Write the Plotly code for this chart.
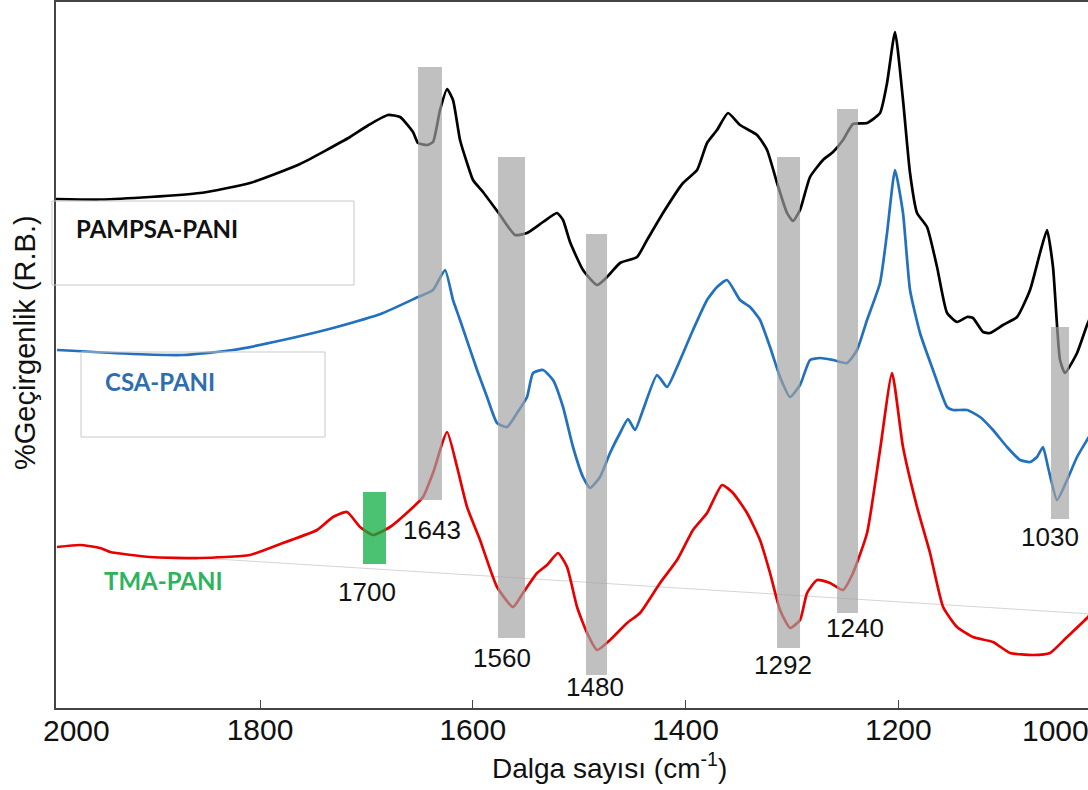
import plotly.graph_objects as go

# ---------------- data (wavenumber in cm-1, transmittance in relative units) ----------------
wn_pampsa = [1992, 1950.4, 1903.4, 1856.4, 1809.4, 1762.4, 1715.4, 1699.4, 1679.7, 1668.4, 1656.2, 1651.5,
             1643, 1637.4, 1630.8, 1624.2, 1618.6, 1612, 1605.4, 1599.8, 1590.4, 1574.4, 1560.3, 1549,
             1534, 1520.8, 1515.2, 1508.6, 1496.4, 1483.2, 1473.8, 1461.6, 1445.6, 1436.2, 1421.2, 1402.4,
             1389.2, 1379.8, 1370.4, 1360.1, 1348.8, 1332.8, 1323.4, 1314, 1304.6, 1299, 1292.4, 1283,
             1270.8, 1261.4, 1252, 1242.6, 1229.4, 1217.2, 1210.6, 1203.1, 1195.6, 1189, 1182.4, 1173,
             1163.6, 1154.2, 1144.8, 1135.4, 1129.8, 1120.4, 1113.8, 1101.6, 1088.4, 1076.2, 1066.8, 1060.2,
             1054.6, 1048, 1043.3, 1032, 1022.6, 1019.8]
t_pampsa = [509, 508.5, 511, 515, 525, 544, 571, 582, 593, 591, 576, 565,
            563, 566, 598, 619, 608, 568, 545, 528, 516, 493, 473, 475,
            486, 495, 488, 466, 438, 423, 431, 445, 451, 468, 495, 525,
            538, 565, 578, 595, 583, 573, 558, 525, 495, 487, 498, 531,
            548, 556, 568, 584, 585, 595, 625, 676, 608, 535, 495, 481,
            441, 395, 386, 391, 390, 376, 375, 383, 391, 418, 455, 478,
            441, 348, 335, 355, 383, 390]

wn_csa = [1990.8, 1919.4, 1872.4, 1825.4, 1778.4, 1731.4, 1684.4, 1651.5, 1637.4, 1626.1, 1618.6, 1612,
          1596, 1586.6, 1577.2, 1567.8, 1558.4, 1549, 1543.4, 1534, 1524.6, 1515.2, 1505.8, 1496.4,
          1489.8, 1480.4, 1471, 1461.6, 1454.1, 1447.5, 1440, 1426.8, 1417.4, 1408, 1393, 1379.8,
          1370.4, 1361, 1348.8, 1339.4, 1330, 1320.6, 1311.2, 1301.8, 1292.4, 1283, 1273.6, 1261.4,
          1248.2, 1238.8, 1229.4, 1217.2, 1210.6, 1203.1, 1195.6, 1189, 1179.6, 1167.4, 1154.2, 1148.6,
          1135.4, 1123.2, 1111, 1097.8, 1085.6, 1076.2, 1069.6, 1064, 1059.3, 1050.8, 1041.4, 1032,
          1022.6, 1018]
t_csa = [358, 354, 353, 358, 368, 380, 395, 411, 418, 438, 408, 388,
         338, 311, 285, 281, 295, 311, 335, 338, 328, 301, 261, 231,
         220, 231, 255, 275, 289, 278, 298, 333, 321, 341, 378, 408,
         421, 428, 408, 401, 388, 361, 331, 311, 323, 348, 350, 348,
         345, 358, 388, 425, 475, 538, 495, 418, 375, 338, 301, 298,
         298, 291, 278, 261, 248, 246, 251, 261, 241, 208, 228, 251,
         268, 276]

wn_tma = [1990.8, 1969.2, 1950.4, 1941, 1903.4, 1856.4, 1809.4, 1778.4, 1746.4, 1731.4, 1718.2, 1706,
          1693.8, 1677.8, 1659, 1646.8, 1637.4, 1624.2, 1614.8, 1605.4, 1593.2, 1577.2, 1562.2, 1552.8,
          1539.6, 1530.2, 1519.9, 1511.4, 1502, 1492.6, 1483.2, 1471, 1455, 1442.8, 1424, 1408,
          1393, 1379.8, 1365.7, 1355.4, 1342.2, 1330, 1320.6, 1311.2, 1301.8, 1292.4, 1285.8, 1276.4,
          1264.2, 1252, 1242.6, 1229.4, 1217.2, 1205.9, 1195.6, 1182.4, 1170.2, 1157.9, 1144.8, 1129.8,
          1111, 1095, 1073.4, 1057.4, 1041.4, 1022.6, 1018]
t_tma = [161, 163, 160, 156, 151, 150, 153, 165, 178, 191, 196, 181,
         173, 181, 198, 211, 235, 276, 241, 201, 168, 121, 101, 115,
         135, 143, 155, 141, 101, 75, 58, 68, 85, 95, 125, 148,
         178, 195, 223, 215, 195, 168, 135, 98, 80, 88, 115, 128,
         125, 118, 135, 175, 258, 335, 261, 201, 155, 101, 81, 71,
         66, 55, 53, 55, 71, 90, 96]

baseline_wn = [1856.4, 1018]
baseline_t = [150, 94]

band_labels = ["1643", "1560", "1480", "1292", "1240", "1030"]
band_lo = [1629.0, 1550.9, 1473.8, 1292.4, 1237.9, 1039.5]
band_hi = [1651.5, 1576.3, 1493.6, 1314.0, 1257.6, 1056.5]
band_bottom = [208, 70, 33, 60, 95, 189]
band_top = [641, 551, 474, 551, 599, 381]
label_wn = [1638.3, 1572.5, 1485.1, 1308.4, 1240.7, 1057.4]
label_t = [178, 50, 21, 43, 80, 171]

green_label = "1700"
green_lo, green_hi = 1681.6, 1703.2
green_bottom, green_top = 144, 216
green_label_wn, green_label_t = 1699.4, 116

series_names = ["PAMPSA-PANI", "CSA-PANI", "TMA-PANI"]
x_ticks = [1800, 1600, 1400, 1200]
edge_tick_labels = ["2000", "1000"]

# ---------------- figure ----------------
ARIAL = "Liberation Sans, Arial, sans-serif"
CAL = "Lato, Carlito, Calibri, sans-serif"
W, H, L, T, B = 1088, 790, 56, 2, 82
PW, PH = W - L, H - T - B


def px_x(px):
    return (px - L) / PW


def px_y(py):
    return (H - B - py) / PH


fig = go.Figure()
fig.add_trace(go.Scatter(x=baseline_wn, y=baseline_t, mode="lines",
                         line=dict(color="#d4d4d4", width=1), hoverinfo="skip"))
for wn, t, col, name in [(wn_pampsa, t_pampsa, "#000000", series_names[0]),
                         (wn_csa, t_csa, "#2271BE", series_names[1]),
                         (wn_tma, t_tma, "#E80000", series_names[2])]:
    fig.add_trace(go.Scatter(x=wn, y=t, mode="lines", name=name,
                             line=dict(color=col, width=2.7, shape="spline", smoothing=0.5)))

shapes = []
for lo, hi, b, tp in zip(band_lo, band_hi, band_bottom, band_top):
    shapes.append(dict(type="rect", xref="x", yref="y", x0=hi, x1=lo, y0=b, y1=tp,
                       fillcolor="rgb(162,162,162)", opacity=0.68, line=dict(width=0), layer="above"))
shapes.append(dict(type="rect", xref="x", yref="y", x0=green_hi, x1=green_lo, y0=green_bottom, y1=green_top,
                   fillcolor="rgb(13,174,67)", opacity=0.75, line=dict(width=0), layer="above"))
# legend boxes
shapes.append(dict(type="rect", xref="paper", yref="paper", x0=px_x(52), x1=px_x(354), y0=px_y(285), y1=px_y(201),
                   line=dict(color="#c8c8c8", width=1), fillcolor="rgba(0,0,0,0)", layer="above"))
shapes.append(dict(type="rect", xref="paper", yref="paper", x0=px_x(81), x1=px_x(325), y0=px_y(437), y1=px_y(352),
                   line=dict(color="#c8c8c8", width=1), fillcolor="rgba(0,0,0,0)", layer="above"))

annotations = []
for txt, x, y in zip(band_labels, label_wn, label_t):
    annotations.append(dict(x=x, y=y, xref="x", yref="y", text=txt, showarrow=False,
                            xanchor="center", yanchor="middle",
                            font=dict(family=ARIAL, size=26, color="#111111")))
annotations.append(dict(x=green_label_wn, y=green_label_t, xref="x", yref="y", text=green_label,
                        showarrow=False, xanchor="center", yanchor="middle",
                        font=dict(family=ARIAL, size=26, color="#111111")))
annotations += [
    dict(x=px_x(74), y=px_y(229), xref="paper", yref="paper", xanchor="left", yanchor="middle",
         text="<b>PAMPSA-PANI</b>", showarrow=False, font=dict(family=CAL, size=24, color="#111111")),
    dict(x=px_x(103), y=px_y(382), xref="paper", yref="paper", xanchor="left", yanchor="middle",
         text="<b>CSA-PANI</b>", showarrow=False, font=dict(family=CAL, size=24, color="#2E6DAE")),
    dict(x=px_x(102), y=px_y(580), xref="paper", yref="paper", xanchor="left", yanchor="middle",
         text="<b>TMA-PANI</b>", showarrow=False, font=dict(family=CAL, size=24, color="#2DB35E")),
    # outer tick labels of the cropped axis
    dict(x=px_x(76), y=px_y(730), xref="paper", yref="paper", text=edge_tick_labels[0], showarrow=False,
         xanchor="center", yanchor="middle", font=dict(family=ARIAL, size=30, color="#111111")),
    dict(x=px_x(1055), y=px_y(730), xref="paper", yref="paper", text=edge_tick_labels[1], showarrow=False,
         xanchor="center", yanchor="middle", font=dict(family=ARIAL, size=30, color="#111111")),
    # axis titles
    dict(x=px_x(609), y=px_y(766), xref="paper", yref="paper", xanchor="center", yanchor="middle",
         text="Dalga sayısı (cm<sup>-1</sup>)", showarrow=False,
         font=dict(family=ARIAL, size=28, color="#111111")),
    dict(x=px_x(25), y=px_y(343), xref="paper", yref="paper", textangle=-90,
         xanchor="center", yanchor="middle",
         text="%Geçirgenlik (R.B.)", showarrow=False,
         font=dict(family=ARIAL, size=29, color="#111111")),
]

fig.update_layout(
    width=W, height=H,
    margin=dict(l=L, r=0, t=T, b=B),
    paper_bgcolor="white", plot_bgcolor="white",
    showlegend=False,
    shapes=shapes, annotations=annotations,
    xaxis=dict(range=[1991.8, 1021.7], tickvals=x_ticks, ticks="inside", ticklen=8,
               tickcolor="#444444", showline=True, linecolor="#444444", linewidth=1.5, mirror=True,
               showgrid=False, zeroline=False, ticklabelstandoff=-6,
               tickfont=dict(family=ARIAL, size=30, color="#111111")),
    yaxis=dict(range=[0, 706], showline=True, linecolor="#444444", linewidth=1.5,
               showticklabels=False, ticks="", showgrid=False, zeroline=False),
)

fig.write_html("out.html", config={"displayModeBar": False},
               post_script="document.body.style.margin='0px';")
